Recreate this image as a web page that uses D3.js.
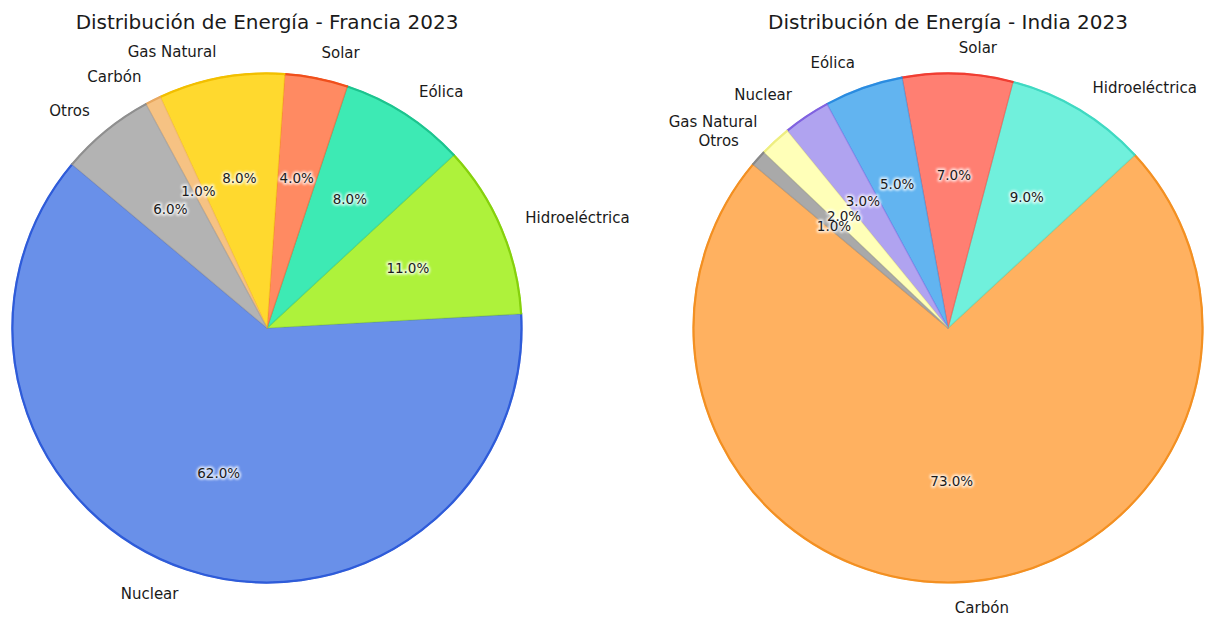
<!DOCTYPE html>
<html>
<head>
<meta charset="utf-8">
<script src="https://cdn.jsdelivr.net/npm/d3@7/dist/d3.min.js"></script>
<style>
  html, body { margin: 0; padding: 0; background: #ffffff; }
  svg { display: block; font-family: "DejaVu Sans", sans-serif; }
</style>
</head>
<body>
<svg id="chart" width="1205" height="617"></svg>
<script>
// Energy mix data (percentages)
const franceLabels = ["Nuclear", "Hidroeléctrica", "Eólica", "Solar", "Gas Natural", "Carbón", "Otros"];
const franceValues = [62, 11, 8, 4, 8, 1, 6];
const franceFill   = ["#6990e9", "#aef23b", "#3eeab4", "#ff8a62", "#ffd92f", "#f6c283", "#b3b3b3"];
const franceEdge   = ["#2f5bd9", "#86d10c", "#1fc48f", "#f0501c", "#f2bf00", "#e8a860", "#8f8f8f"];

const indiaLabels = ["Carbón", "Hidroeléctrica", "Solar", "Eólica", "Nuclear", "Gas Natural", "Otros"];
const indiaValues = [73, 9, 7, 5, 3, 2, 1];
const indiaFill   = ["#ffb161", "#70f0dc", "#ff7f72", "#62b4f0", "#b0a3f0", "#ffffb8", "#a9a9a9"];
const indiaEdge   = ["#f39022", "#3fd9c2", "#f03c30", "#2c8ce0", "#8062e0", "#eeee80", "#888888"];

const titles = ["Distribución de Energía - Francia 2023", "Distribución de Energía - India 2023"];

const svg = d3.select("#chart");
const defs = svg.append("defs");
defs.append("filter").attr("id", "soft")
  .append("feGaussianBlur").attr("stdDeviation", 0.6);
defs.append("filter").attr("id", "halo").attr("x", "-20%").attr("y", "-40%").attr("width", "140%").attr("height", "180%")
  .append("feGaussianBlur").attr("stdDeviation", 1.2);

const R = 255;
const fmtPct = d3.format(".1f");

// start at 140° counter-clockwise from 3 o'clock, running counter-clockwise
const startDeg = 90 - 140;
const pie = d3.pie().sort(null).value(d => d.value)
  .startAngle(startDeg * Math.PI / 180)
  .endAngle((startDeg - 360) * Math.PI / 180);

function drawPie(cx, cy, title, labels, values, fills, edges) {
  const data = labels.map((l, i) => ({ label: l, value: values[i], fill: fills[i], edge: edges[i] }));
  const total = d3.sum(values);
  const arcs = pie(data);
  const g = svg.append("g").attr("transform", `translate(${cx},${cy})`);

  const arc = d3.arc().innerRadius(0).outerRadius(R);
  const rim = d3.arc().innerRadius(R - 1).outerRadius(R);

  const wedges = g.append("g").attr("filter", "url(#soft)");
  wedges.selectAll("path.wedge").data(arcs).join("path")
    .attr("class", "wedge")
    .attr("d", arc)
    .attr("fill", d => d.data.fill)
    .attr("stroke", d => d.data.edge)
    .attr("stroke-opacity", 0.45)
    .attr("stroke-width", 1.2)
    .attr("stroke-linejoin", "round");
  // darker outer rim of each wedge
  wedges.selectAll("path.rim").data(arcs).join("path")
    .attr("class", "rim")
    .attr("d", rim)
    .attr("fill", d => d.data.edge)
    .attr("stroke", d => d.data.edge)
    .attr("stroke-width", 1.2);

  const mid = d => (d.startAngle + d.endAngle) / 2;

  // percentage labels at 0.6 radius
  const pct = g.append("g").attr("font-size", 13.5).attr("text-anchor", "middle").attr("dominant-baseline", "central");
  const pos = (d, k) => [k * R * Math.sin(mid(d)), -k * R * Math.cos(mid(d))];
  pct.selectAll("text.h").data(arcs).join("text")
    .attr("class", "h")
    .attr("x", d => pos(d, 0.6)[0]).attr("y", d => pos(d, 0.6)[1])
    .attr("fill", "#ffffff").attr("stroke", "#ffffff").attr("stroke-width", 3.5)
    .attr("stroke-linejoin", "round").attr("opacity", 0.75)
    .attr("filter", "url(#halo)")
    .text(d => fmtPct(d.data.value / total * 100) + "%");
  pct.selectAll("text.t").data(arcs).join("text")
    .attr("class", "t")
    .attr("x", d => pos(d, 0.6)[0]).attr("y", d => pos(d, 0.6)[1])
    .attr("fill", "#1a1a1a")
    .text(d => fmtPct(d.data.value / total * 100) + "%");

  // category labels at 1.1 radius
  g.append("g").attr("font-size", 15).attr("dominant-baseline", "central").attr("fill", "#1a1a1a")
    .selectAll("text").data(arcs).join("text")
    .attr("x", d => pos(d, 1.1)[0]).attr("y", d => pos(d, 1.1)[1])
    .attr("text-anchor", d => pos(d, 1.1)[0] > 0 ? "start" : "end")
    .text(d => d.data.label);

  svg.append("text")
    .attr("x", cx).attr("y", 29)
    .attr("text-anchor", "middle")
    .attr("font-size", 20)
    .attr("fill", "#1a1a1a")
    .text(title);
}

drawPie(267, 328, titles[0], franceLabels, franceValues, franceFill, franceEdge);
drawPie(948, 328, titles[1], indiaLabels, indiaValues, indiaFill, indiaEdge);
</script>
</body>
</html>
